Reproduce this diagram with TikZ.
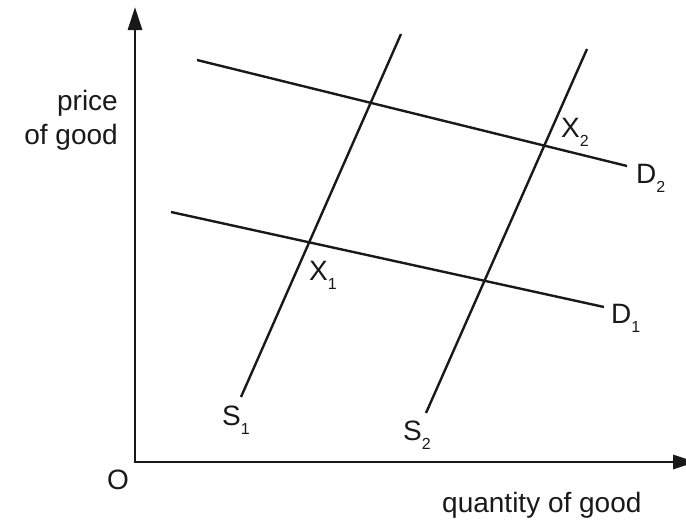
\documentclass[tikz,border=0pt]{standalone}
\usepackage{fontspec}
\setmainfont{Liberation Sans}
\usetikzlibrary{arrows.meta}
\newcommand\lblsub[2]{#1\raisebox{-9pt}{\fontsize{16}{16}\selectfont #2}}
\begin{document}
\begin{tikzpicture}[x=1pt,y=-1pt,
  curve/.style={line width=2.4pt, color=black!90, line cap=butt},
  axis/.style={line width=2.8pt, color=black!90, line join=miter,
    {Triangle[length=23pt,width=14pt]}-{Triangle[length=23pt,width=14pt]}},
  lab/.style={anchor=base west, inner sep=0pt, font=\fontsize{28}{28}\selectfont, text=black!90},
  axlab/.style={inner sep=0pt, font=\fontsize{28}{34}\selectfont, text=black!90}]
\useasboundingbox (0,0) rectangle (686,520);
% axes
\coordinate (ytip) at (135,7);
\coordinate (orig) at (135,462);
\coordinate (xtip) at (696,462);
\draw[axis] (ytip) -- (orig) -- (xtip);
% curves
\coordinate (d2a) at (197,60);  \coordinate (d2b) at (627,166);
\coordinate (d1a) at (171,212); \coordinate (d1b) at (604,307);
\coordinate (s1a) at (241,397); \coordinate (s1b) at (401,34);
\coordinate (s2a) at (426,413); \coordinate (s2b) at (587,49);
\draw[curve] (d2a) -- (d2b);
\draw[curve] (d1a) -- (d1b);
\draw[curve] (s1a) -- (s1b);
\draw[curve] (s2a) -- (s2b);
% labels
\node[lab] (lx1) at (309,280) {\lblsub{X}{1}};
\node[lab] (lx2) at (561,137) {\lblsub{X}{2}};
\node[lab] (ld2) at (636,183) {\lblsub{D}{2}};
\node[lab] (ld1) at (611,323) {\lblsub{D}{1}};
\node[lab] (ls1) at (222,425) {\lblsub{S}{1}};
\node[lab] (ls2) at (403,440) {\lblsub{S}{2}};
\node[lab] (lo) at (107,489) {O};
\node[lab] (lq) at (442,512) {quantity of good};
\node[axlab, align=right, anchor=east] (lp) at (118,120) {price\\of good};
\end{tikzpicture}
\end{document}
